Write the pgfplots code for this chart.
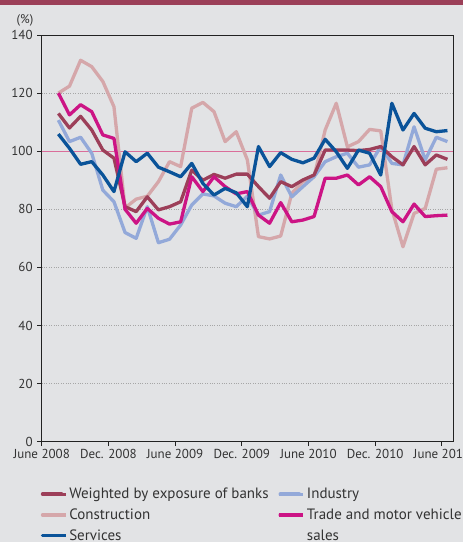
\documentclass[border=0pt]{standalone}
\usepackage{fontspec}
\setmainfont{PT Sans}
\usepackage{pgfplots}
\pgfplotsset{compat=1.18}
\definecolor{bgcol}{HTML}{E2E3E5}
\definecolor{bandcol}{HTML}{9B3F58}
\definecolor{textcol}{HTML}{333333}
\definecolor{axcol}{HTML}{222222}
\definecolor{refline}{HTML}{DA6E9A}
\definecolor{cWeighted}{HTML}{9C3F59}
\definecolor{cIndustry}{HTML}{93A9D9}
\definecolor{cConstr}{HTML}{D5A7AA}
\definecolor{cTrade}{HTML}{CC1485}
\definecolor{cServices}{HTML}{0A5399}

\pgfplotstableread{
x weighted industry constr trade services
1.5 113.0 110.7 120.0 120.0 105.9
2.5 108.0 103.3 122.4 112.5 101.0
3.5 112.0 104.8 131.3 116.0 95.5
4.5 107.3 99.3 129.1 113.6 96.4
5.5 100.4 86.6 124.0 105.6 91.8
6.5 97.6 82.6 115.3 104.4 86.1
7.5 80.9 72.0 80.5 80.0 99.8
8.5 79.2 70.0 83.5 75.2 96.4
9.5 84.3 80.9 84.5 80.3 99.3
10.5 79.8 68.5 89.5 76.9 94.5
11.5 80.9 69.7 96.4 74.9 92.9
12.5 82.6 74.6 94.7 75.7 91.2
13.5 93.5 81.5 114.8 91.2 95.8
14.5 90.0 85.3 116.8 86.1 88.9
15.5 92.0 84.6 113.6 91.2 84.9
16.5 90.7 82.1 103.3 87.8 87.2
17.5 92.1 80.9 106.7 85.3 85.7
18.5 92.1 84.5 97.0 86.1 80.9
19.5 87.8 78.0 70.6 78.0 101.6
20.5 83.8 79.2 69.8 75.2 94.7
21.5 89.5 91.8 70.8 82.3 99.5
22.5 87.8 84.3 85.5 75.7 97.2
23.5 90.1 87.8 89.5 76.3 96.0
24.5 91.8 91.2 91.2 77.5 97.6
25.5 100.4 96.4 107.3 90.7 104.1
26.5 100.4 98.1 116.5 90.7 99.8
27.5 100.4 99.3 101.5 91.8 94.1
28.5 100.2 94.5 103.3 88.4 100.4
29.5 100.6 95.3 107.5 91.2 99.3
30.5 101.6 101.6 107.0 87.8 91.8
31.5 98.1 95.8 80.0 79.2 116.5
32.5 95.3 95.3 67.1 75.7 107.3
33.5 101.6 108.4 78.6 81.8 113.0
34.5 95.3 97.0 80.3 77.5 107.9
35.5 98.7 104.8 93.8 77.8 106.7
36.5 97.2 103.3 94.3 78.0 107.1
}\datatable

\begin{document}
\begin{tikzpicture}[x=1pt,y=1pt]
\fill[bgcol] (0,0) rectangle (463,542);
\fill[bandcol] (0,537.3) rectangle (463,542);
\node[anchor=base, font=\fontsize{12.5}{14}\selectfont, text=textcol] at (25,518) {(\%)};
\begin{axis}[
  at={(41.7pt,100.3pt)}, anchor=south west,
  width=411.3pt, height=406.7pt, scale only axis,
  xmin=0, xmax=37, ymin=0, ymax=140,
  xtick={0,6,...,36},
  xticklabels={June 2008, Dec. 2008, June 2009, Dec. 2009, June 2010, Dec. 2010, June 2011},
  ytick={0,20,...,140},
  tick align=outside, xtick pos=bottom, ytick pos=left,
  major tick length=4.5pt,
  axis line style={line width=0.9pt, color=axcol},
  tick style={line width=0.9pt, color=axcol},
  ymajorgrids, grid style={dotted, color=gray!70, line width=0.7pt},
  /pgf/number format/assume math mode=true,
  ticklabel style={font=\fontsize{13}{15}\selectfont, text=textcol},
  yticklabel style={xshift=-1pt},
  legend columns=2,
  legend cell align=left,
  legend style={at={(rel axis cs:-0.012,-0.104)}, anchor=north west, draw=none, fill=none,
    font=\fontsize{15}{18}\selectfont, text=textcol,
    /tikz/every even column/.append style={column sep=7pt},
    row sep=4.5pt},
  legend image code/.code={\path (0pt,0pt) -- (24pt,0pt);\draw[#1, line width=3.6pt, line cap=round] (1pt,0pt) -- (20pt,0pt);},
  every axis plot/.append style={line width=3.3pt, line join=round},
]
\addplot[refline, line width=1.1pt, forget plot] coordinates {(0,100) (37,100)};
\addplot[cConstr, forget plot] table[x=x, y=constr] {\datatable};
\addplot[cIndustry, forget plot] table[x=x, y=industry] {\datatable};
\addplot[cWeighted, forget plot] table[x=x, y=weighted] {\datatable};
\addplot[cTrade, forget plot] table[x=x, y=trade] {\datatable};
\addplot[cServices, forget plot] table[x=x, y=services] {\datatable};
\addlegendimage{cWeighted}
\addlegendentry{Weighted by exposure of banks}
\addlegendimage{cIndustry}
\addlegendentry{Industry}
\addlegendimage{cConstr}
\addlegendentry{Construction}
\addlegendimage{cTrade}
\addlegendentry{\vphantom{Construction}\smash{\parbox[t]{170pt}{\baselineskip=21pt Trade and motor vehicle\\sales}}}
\addlegendimage{cServices}
\addlegendentry{Services}
\end{axis}
\pgfresetboundingbox
\path[use as bounding box] (0,0) rectangle (463,542);
\end{tikzpicture}
\end{document}
